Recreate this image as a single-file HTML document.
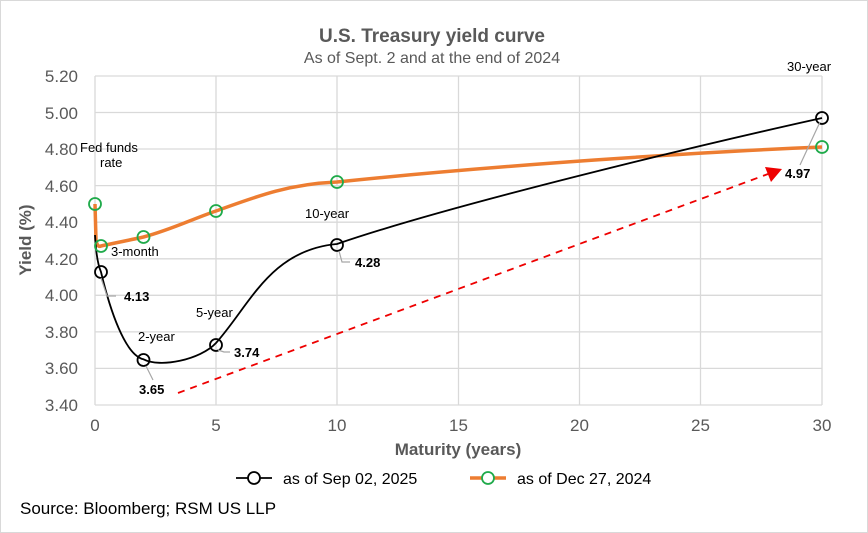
<!DOCTYPE html>
<html><head><style>
body{margin:0;background:#fff;}
svg{display:block;font-family:"Liberation Sans",Arial,sans-serif;}
</style></head><body>
<svg width="868" height="533" viewBox="0 0 868 533">
<rect x="0.5" y="0.5" width="867" height="532" fill="#fff" stroke="#d9d9d9"/>
<text x="432" y="42" text-anchor="middle" font-size="19" font-weight="bold" fill="#595959">U.S. Treasury yield curve</text>
<text x="432" y="63" text-anchor="middle" font-size="16" fill="#595959">As of Sept. 2 and at the end of 2024</text>
<g stroke="#d9d9d9" stroke-width="1.3">
<line x1="95" y1="76" x2="822" y2="76"/><line x1="95" y1="112.5" x2="822" y2="112.5"/><line x1="95" y1="149" x2="822" y2="149"/><line x1="95" y1="185.6" x2="822" y2="185.6"/><line x1="95" y1="222.2" x2="822" y2="222.2"/><line x1="95" y1="258.8" x2="822" y2="258.8"/><line x1="95" y1="295.3" x2="822" y2="295.3"/><line x1="95" y1="331.9" x2="822" y2="331.9"/><line x1="95" y1="368.4" x2="822" y2="368.4"/><line x1="95" y1="405" x2="822" y2="405"/>
<line x1="95" y1="76" x2="95" y2="405"/><line x1="216" y1="76" x2="216" y2="405"/><line x1="337" y1="76" x2="337" y2="405"/><line x1="458.5" y1="76" x2="458.5" y2="405"/><line x1="579.5" y1="76" x2="579.5" y2="405"/><line x1="700.5" y1="76" x2="700.5" y2="405"/><line x1="822" y1="76" x2="822" y2="405"/>
</g>
<g font-size="17" fill="#595959" text-anchor="end">
<text x="78" y="82">5.20</text><text x="78" y="119">5.00</text><text x="78" y="155">4.80</text><text x="78" y="192">4.60</text><text x="78" y="228">4.40</text><text x="78" y="265">4.20</text><text x="78" y="301">4.00</text><text x="78" y="338">3.80</text><text x="78" y="374">3.60</text><text x="78" y="411">3.40</text>
</g>
<g font-size="17" fill="#595959" text-anchor="middle">
<text x="95" y="431">0</text><text x="216" y="431">5</text><text x="337" y="431">10</text><text x="458.5" y="431">15</text><text x="579.5" y="431">20</text><text x="700.5" y="431">25</text><text x="822" y="431">30</text>
</g>
<text x="458" y="455" text-anchor="middle" font-size="17" font-weight="bold" fill="#595959">Maturity (years)</text>
<text transform="translate(31,240) rotate(-90)" text-anchor="middle" font-size="17" font-weight="bold" fill="#595959">Yield (%)</text>
<line x1="178" y1="393" x2="768" y2="174" stroke="#e00" stroke-width="1.8" stroke-dasharray="7,6"/>
<polygon points="782,169 765,167 771,182" fill="#e00"/>
<path d="M95,204 L96,240 C97,246 99,247 101,246 C115,243 130,240 143.5,237 C170,230 190,220 216,211 C260,195 290,184 337,182 C500,165 700,152 822,147" fill="none" stroke="#ed7d31" stroke-width="3.5"/>
<path d="M95,235 C96,255 98,265 101,272 C110,310 125,355 143.5,359.3 C160,368 200,360 216,343 C250,305 270,250 337,244 C450,205 700,145 822,118" fill="none" stroke="#000" stroke-width="1.8"/>
<g fill="none" stroke="#1faa4a" stroke-width="1.8">
<circle cx="95" cy="204" r="6"/><circle cx="101" cy="246" r="6"/><circle cx="143.5" cy="237" r="6"/><circle cx="216" cy="211" r="6"/><circle cx="337" cy="182" r="6"/><circle cx="822" cy="147" r="6"/>
</g>
<g fill="none" stroke="#000" stroke-width="1.8">
<circle cx="101" cy="272" r="6"/><circle cx="143.5" cy="360" r="6"/><circle cx="216" cy="345" r="6"/><circle cx="337" cy="245" r="6"/><circle cx="822" cy="118" r="6"/>
</g>
<g stroke="#a6a6a6" stroke-width="1.2" fill="none">
<polyline points="101,278 107,296 116,296"/><polyline points="146,366 153,380"/><polyline points="218,350 224,352 230,352"/><polyline points="339,251 342,262 350,262"/><polyline points="820,122 800,165"/>
</g>
<g font-size="13" fill="#000">
<text x="80" y="152">Fed funds</text><text x="100" y="167">rate</text>
<text x="111" y="256">3-month</text><text x="138" y="341">2-year</text><text x="196" y="317">5-year</text><text x="305" y="218">10-year</text><text x="787" y="71">30-year</text>
</g>
<g font-size="13" font-weight="bold" fill="#000">
<text x="124" y="301">4.13</text><text x="139" y="394">3.65</text><text x="234" y="357">3.74</text><text x="355" y="267">4.28</text><text x="785" y="178">4.97</text>
</g>
<line x1="236" y1="478" x2="272" y2="478" stroke="#000" stroke-width="1.8"/><circle cx="254" cy="478" r="6" fill="#fff" stroke="#000" stroke-width="1.8"/>
<text x="283" y="484" font-size="16" fill="#000">as of Sep 02, 2025</text>
<line x1="470" y1="478" x2="506" y2="478" stroke="#ed7d31" stroke-width="3.5"/><circle cx="488" cy="478" r="6" fill="#fff" stroke="#1faa4a" stroke-width="1.8"/>
<text x="517" y="484" font-size="16" fill="#000">as of Dec 27, 2024</text>
<text x="20" y="514" font-size="17" fill="#000">Source: Bloomberg; RSM US LLP</text>
</svg>
</body></html>
